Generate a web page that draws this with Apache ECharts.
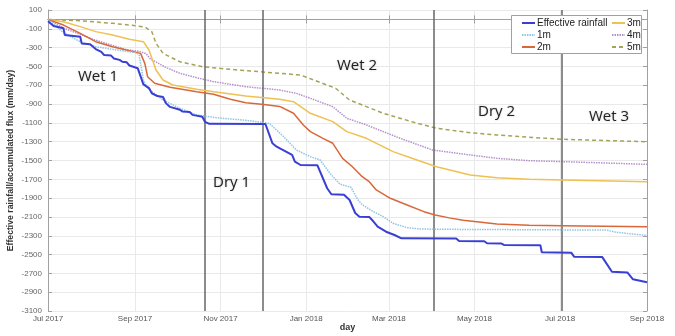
<!DOCTYPE html>
<html><head><meta charset="utf-8">
<script src="https://cdn.jsdelivr.net/npm/echarts@6/dist/echarts.min.js"></script>
<style>html,body{margin:0;padding:0;background:#fff}#c{width:675px;height:336px}</style>
</head><body><div id="c"></div>
<script>
const xTickDates = ['2017-07-01','2017-09-01','2017-11-01','2018-01-01','2018-03-01','2018-05-01','2018-07-01','2018-09-01'];
const xTickLabels = ['Jul 2017','Sep 2017','Nov 2017','Jan 2018','Mar 2018','May 2018','Jul 2018','Sep 2018'];
const yTickValues = [-3100,-2900,-2700,-2500,-2300,-2100,-1900,-1700,-1500,-1300,-1100,-900,-700,-500,-300,-100,100];
const periodLines = ['2017-10-21','2017-12-01','2018-04-02','2018-07-02'];
const periodNames = ['Wet 1','Dry 1','Wet 2','Dry 2','Wet 3'];
const seriesNames = ['Effective rainfall','1m','2m','3m','4m','5m'];

const effectiveRainfall = [['2017-07-01',-20],['2017-07-05',-70],['2017-07-12',-95],['2017-07-13',-165],['2017-07-24',-185],['2017-07-25',-255],['2017-07-31',-265],['2017-08-04',-315],['2017-08-08',-345],['2017-08-10',-378],['2017-08-15',-385],['2017-08-17',-415],['2017-08-21',-430],['2017-08-23',-450],['2017-08-26',-455],['2017-08-28',-490],['2017-09-03',-520],['2017-09-07',-690],['2017-09-08',-705],['2017-09-11',-730],['2017-09-13',-785],['2017-09-17',-815],['2017-09-21',-825],['2017-09-23',-890],['2017-09-26',-930],['2017-10-03',-960],['2017-10-05',-980],['2017-10-10',-985],['2017-10-12',-1015],['2017-10-19',-1035],['2017-10-21',-1090],['2017-10-24',-1110],['2017-12-03',-1112],['2017-12-08',-1317],['2017-12-11',-1353],['2017-12-22',-1441],['2017-12-24',-1512],['2017-12-28',-1548],['2018-01-09',-1550],['2018-01-16',-1795],['2018-01-19',-1859],['2018-01-28',-1865],['2018-02-01',-1920],['2018-02-05',-2058],['2018-02-08',-2097],['2018-02-15',-2100],['2018-02-17',-2132],['2018-02-21',-2204],['2018-02-27',-2257],['2018-03-05',-2292],['2018-03-10',-2327],['2018-04-18',-2330],['2018-04-20',-2356],['2018-05-08',-2358],['2018-05-10',-2380],['2018-05-20',-2382],['2018-05-22',-2398],['2018-06-17',-2400],['2018-06-18',-2476],['2018-07-09',-2480],['2018-07-11',-2522],['2018-07-31',-2525],['2018-08-07',-2682],['2018-08-18',-2690],['2018-08-22',-2763],['2018-09-01',-2795]];

const flux1m = [['2017-07-01',0],['2017-07-12',-141],['2017-07-24',-237],['2017-08-04',-290],['2017-08-19',-325],['2017-09-02',-354],['2017-09-04',-380],['2017-09-07',-644],['2017-09-10',-732],['2017-09-21',-857],['2017-10-03',-945],['2017-10-15',-1016],['2017-10-29',-1045],['2017-11-22',-1077],['2017-12-03',-1100],['2017-12-06',-1108],['2017-12-16',-1247],['2017-12-25',-1388],['2018-01-04',-1459],['2018-01-11',-1495],['2018-01-18',-1636],['2018-01-25',-1750],['2018-02-02',-1785],['2018-02-07',-1920],['2018-02-10',-1970],['2018-02-18',-2044],['2018-02-25',-2097],['2018-03-04',-2168],['2018-03-14',-2214],['2018-03-23',-2228],['2018-04-03',-2231],['2018-08-03',-2240],['2018-08-10',-2263],['2018-09-01',-2297]];

const flux2m = [['2017-07-01',0],['2017-07-12',-60],['2017-07-24',-148],['2017-08-04',-237],['2017-08-16',-290],['2017-08-28',-333],['2017-09-05',-361],['2017-09-08',-467],['2017-09-10',-609],['2017-09-15',-679],['2017-09-26',-722],['2017-10-15',-768],['2017-10-27',-795],['2017-11-08',-849],['2017-11-19',-885],['2017-12-02',-905],['2017-12-13',-925],['2017-12-16',-945],['2017-12-23',-998],['2017-12-30',-1122],['2018-01-04',-1193],['2018-01-13',-1264],['2018-01-20',-1317],['2018-01-27',-1477],['2018-02-03',-1566],['2018-02-10',-1672],['2018-02-15',-1725],['2018-02-20',-1813],['2018-03-02',-1902],['2018-03-14',-1973],['2018-03-26',-2044],['2018-04-03',-2079],['2018-04-13',-2110],['2018-04-23',-2135],['2018-05-17',-2175],['2018-06-09',-2189],['2018-07-03',-2193],['2018-09-01',-2203]];

const flux3m = [['2017-07-01',0],['2017-07-12',-24],['2017-07-24',-77],['2017-08-04',-130],['2017-08-16',-166],['2017-08-28',-212],['2017-09-07',-237],['2017-09-11',-325],['2017-09-16',-538],['2017-09-21',-644],['2017-09-28',-697],['2017-10-15',-743],['2017-10-27',-768],['2017-11-19',-814],['2017-12-13',-849],['2017-12-23',-875],['2018-01-04',-998],['2018-01-20',-1087],['2018-01-30',-1193],['2018-02-13',-1264],['2018-03-04',-1406],['2018-03-21',-1495],['2018-04-04',-1566],['2018-04-28',-1654],['2018-05-17',-1683],['2018-06-09',-1700],['2018-07-03',-1707],['2018-09-01',-1725]];

const flux4m = [['2017-07-01',0],['2017-07-12',-91],['2017-08-03',-216],['2017-08-26',-322],['2017-09-04',-339],['2017-09-09',-365],['2017-09-12',-420],['2017-09-23',-510],['2017-10-03',-573],['2017-10-15',-620],['2017-10-27',-662],['2017-11-19',-715],['2017-12-13',-750],['2017-12-25',-786],['2018-01-04',-839],['2018-01-20',-928],['2018-01-30',-1051],['2018-02-13',-1122],['2018-02-25',-1193],['2018-03-09',-1264],['2018-04-01',-1388],['2018-04-28',-1441],['2018-05-17',-1477],['2018-06-09',-1502],['2018-07-03',-1512],['2018-09-01',-1541]];

const flux5m = [['2017-07-01',0],['2017-07-24',-14],['2017-08-16',-42],['2017-08-28',-60],['2017-09-08',-80],['2017-09-13',-130],['2017-09-16',-254],['2017-09-21',-361],['2017-10-03',-450],['2017-10-19',-503],['2017-11-08',-531],['2017-12-13',-573],['2017-12-28',-591],['2018-01-22',-732],['2018-02-01',-857],['2018-02-25',-998],['2018-03-21',-1104],['2018-04-04',-1158],['2018-04-28',-1204],['2018-05-17',-1229],['2018-06-09',-1253],['2018-07-03',-1275],['2018-09-01',-1300]];

const seriesData = [effectiveRainfall, flux1m, flux2m, flux3m, flux4m, flux5m];
const seriesColors = ['#3a3fd4','#8ec5e3','#d8683a','#efc052','#b592cc','#a3a35a'];
const seriesWidths = [2, 1.5, 1.5, 1.5, 1.5, 1.5];
const seriesDash = ['solid',[1.5,1],'solid','solid',[1.5,1],[4,3]];

const toTime = d => echarts.number.parseDate(d).getTime();
const xTickTimes = xTickDates.map(toTime);
function fmtX(val){
  for (let i = 0; i < xTickTimes.length; i++) if (Math.abs(xTickTimes[i]-val) < 864e5) return xTickLabels[i];
  return '';
}
const xMin = xTickTimes[0], xMax = xTickTimes[xTickTimes.length-1];

const chart = echarts.init(document.getElementById('c'), null, {renderer:'canvas'});
const gridColor = '#e9e9e9', axisColor = '#a0a0a0';
const series = seriesNames.map((name, i) => ({
  name, type:'line', data: seriesData[i].map(p => [toTime(p[0]), p[1]]), xAxisIndex:0, yAxisIndex:0,
  symbol:'none', showSymbol:false, smooth:false, animation:false,
  lineStyle:{color:seriesColors[i], width:seriesWidths[i], type:seriesDash[i]},
  itemStyle:{color:seriesColors[i]}, z: 3 + (5 - i)
}));
series[0].z = 9;
series[0].markLine = {
  silent:true, symbol:'none', label:{show:false}, animation:false,
  lineStyle:{color:'#666', width:1.5, type:'solid'},
  data: periodLines.map(d => ({xAxis:toTime(d)}))
};

const labelPos = [[78,69],[213,175],[337,58],[478,104],[589,109]];
const graphics = [
  {type:'rect', shape:{x:511.5,y:15.5,width:130,height:38}, style:{fill:'#fff', stroke:'#a0a0a0', lineWidth:1}, z:10}
].concat(periodNames.map((t, i) => ({
  type:'text', left:labelPos[i][0], top:labelPos[i][1], z:10,
  style:{text:t, font:'15px "Open Sans"', fill:'#222', textShadowColor:'rgba(0,0,0,0.25)', textShadowBlur:2}
})));

const legendBase = {orient:'vertical', itemWidth:13, itemHeight:8, itemGap:2, padding:0, z:20,
  itemStyle:{opacity:0},
  textStyle:{fontSize:10, lineHeight:10, color:'#222', fontFamily:'Liberation Sans', padding:[0,0,0,-3]}};

chart.setOption({
  animation:false,
  textStyle:{fontFamily:'Liberation Sans'},
  grid:{left:48, right:28, top:10, bottom:25, outerBoundsMode:'none', containLabel:false},
  legend:[
    Object.assign({}, legendBase, {data:seriesNames.slice(0,3), left:521, top:18}),
    Object.assign({}, legendBase, {data:seriesNames.slice(3), left:611, top:18})
  ],
  xAxis:[
    {type:'value', min:xMin, max:xMax, name:'day', nameLocation:'middle', nameGap:12, nameMoveOverlap:false,
     nameTextStyle:{fontWeight:'bold', fontSize:9, color:'#333'},
     axisLine:{show:true, lineStyle:{color:axisColor}},
     axisTick:{show:true, inside:true, length:4, customValues:xTickTimes, lineStyle:{color:axisColor}},
     axisLabel:{customValues:xTickTimes, formatter:fmtX, fontSize:8, color:'#555', margin:4, hideOverlap:false},
     splitLine:{show:true, lineStyle:{color:gridColor}}},
    {type:'value', position:'top', min:xMin, max:xMax,
     axisLine:{show:true, lineStyle:{color:axisColor}},
     axisTick:{show:true, inside:true, length:4, customValues:xTickTimes, lineStyle:{color:axisColor}},
     axisLabel:{show:false}, splitLine:{show:false}}
  ],
  yAxis:[
    {type:'value', min:-3100, max:100, name:'Effective rainfall/accumulated flux (mm/day)', nameLocation:'middle', nameGap:33, nameMoveOverlap:false,
     nameTextStyle:{fontWeight:'bold', fontSize:8.7, color:'#333'},
     axisLine:{show:true, lineStyle:{color:axisColor}},
     axisTick:{show:true, inside:true, length:4, customValues:yTickValues, lineStyle:{color:axisColor}},
     axisLabel:{customValues:yTickValues, formatter: v => String(v), fontSize:8, color:'#666', margin:6},
     splitLine:{show:true, lineStyle:{color:gridColor}}},
    {type:'value', position:'right', min:-3100, max:100,
     axisLine:{show:true, lineStyle:{color:axisColor}},
     axisTick:{show:true, inside:true, length:4, customValues:yTickValues, lineStyle:{color:axisColor}},
     axisLabel:{show:false}, splitLine:{show:false}}
  ],
  graphic: graphics,
  series
});
</script></body></html>
